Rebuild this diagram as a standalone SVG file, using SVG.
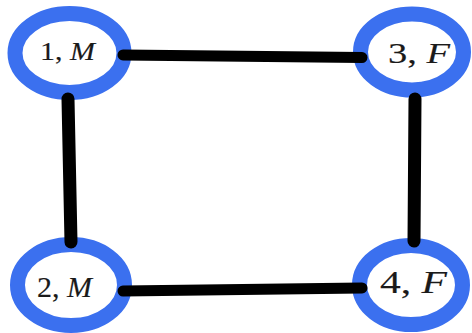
<svg xmlns="http://www.w3.org/2000/svg" width="472" height="333" viewBox="0 0 472 333">
<style>
.ring{fill:#fff;stroke:#3b70ef;stroke-width:15}
.lbl{font-family:"Liberation Serif","DejaVu Serif",serif;fill:#1a1a1a;stroke:#1a1a1a;stroke-width:0.15;text-anchor:middle}
.it{font-style:italic}
.edge{stroke:#000;stroke-linecap:round;fill:none}
</style>
<rect width="472" height="333" fill="#fff"/>
<g id="node1"><ellipse class="ring" cx="69.5" cy="53" rx="54.5" ry="39.5"/><text class="lbl" x="67.5" y="60" font-size="26" textLength="55" lengthAdjust="spacingAndGlyphs">1, <tspan class="it">M</tspan></text></g>
<g id="node3"><ellipse class="ring" cx="412" cy="52" rx="51.5" ry="38"/><text class="lbl" x="419" y="63" font-size="30" textLength="62" lengthAdjust="spacingAndGlyphs">3, <tspan class="it">F</tspan></text></g>
<g id="node2"><ellipse class="ring" cx="71" cy="285" rx="53.5" ry="40.5"/><text class="lbl" x="64.5" y="297" font-size="29" textLength="55" lengthAdjust="spacingAndGlyphs">2, <tspan class="it">M</tspan></text></g>
<g id="node4"><ellipse class="ring" cx="411" cy="285" rx="51.5" ry="39.5"/><text class="lbl" x="413.5" y="293" font-size="32" textLength="67" lengthAdjust="spacingAndGlyphs">4, <tspan class="it">F</tspan></text></g>
<g id="edges">
<line class="edge" x1="123" y1="55" x2="362" y2="57.5" stroke-width="11"/>
<line class="edge" x1="123" y1="291" x2="362" y2="288" stroke-width="11"/>
<line class="edge" x1="68" y1="99" x2="71" y2="242" stroke-width="13"/>
<line class="edge" x1="415" y1="99" x2="414" y2="241" stroke-width="13"/>
</g>
</svg>
